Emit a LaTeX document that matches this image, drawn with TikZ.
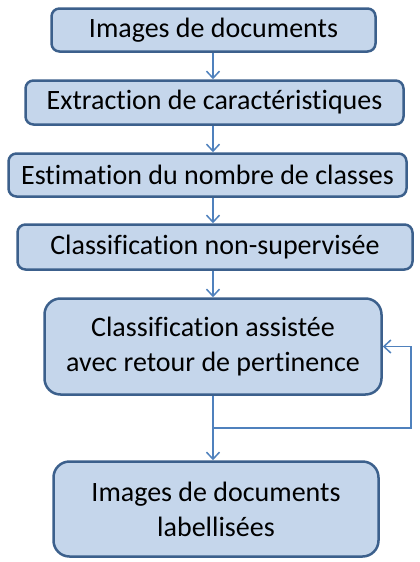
\documentclass[tikz,border=0pt]{standalone}
\usepackage{fontspec}
\setmainfont{Carlito}[Ligatures=NoCommon]
\usetikzlibrary{arrows.meta}
\definecolor{boxfill}{RGB}{197,214,235}
\definecolor{boxline}{RGB}{60,96,140}
\definecolor{arrowline}{RGB}{79,129,189}
\begin{document}
\begin{tikzpicture}[x=1pt,y=-1pt,
  etape/.style={draw=boxline, fill=boxfill, line width=2.5pt, rounded corners=8pt,
    font=\fontsize{28}{35}\selectfont, align=center, inner sep=0pt},
  grande/.style={etape, rounded corners=16pt},
  fleche/.style={draw=arrowline, line width=1.5pt, -{Straight Barb[length=7pt,width=13pt]}}]
  \useasboundingbox (0,0) rectangle (420,562);
  \coordinate (axe) at (213,0);
  \node[etape, minimum width=324pt, minimum height=43pt] (img) at (213.5,30) {Images de documents};
  \node[etape, minimum width=378pt, minimum height=44pt] (ext) at (214.5,102.5) {Extraction de caractéristiques};
  \node[etape, minimum width=398pt, minimum height=43pt] (est) at (207.5,175) {Estimation du nombre de classes};
  \node[etape, minimum width=395pt, minimum height=45pt] (nonsup) at (215,247) {Classification non-supervisée};
  \node[grande, minimum width=337pt, minimum height=96pt] (assist) at (213,346.5) {Classification assistée\\avec retour de pertinence};
  \node[grande, minimum width=325pt, minimum height=95pt] (label) at (216,509) {Images de documents\\labellisées};
  \draw[fleche] (img.south -| axe) -- (ext.north -| axe);
  \draw[fleche] (ext.south -| axe) -- (est.north -| axe);
  \draw[fleche] (est.south -| axe) -- (nonsup.north -| axe);
  \draw[fleche] (nonsup.south -| axe) -- (assist.north -| axe);
  \draw[fleche] (assist.south -| axe) -- (label.north -| axe);
  % retour de pertinence
  \coordinate (j) at (213,428);
  \coordinate (r1) at (411,428);
  \coordinate (r2) at (411,346.5);
  \draw[fleche] (j) -- (r1) -- (r2) -- (assist.east);
\end{tikzpicture}
\end{document}
